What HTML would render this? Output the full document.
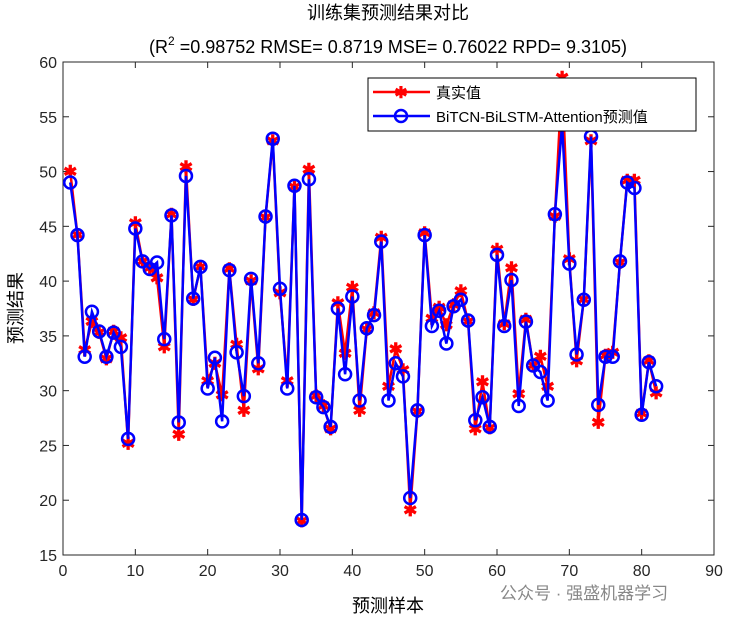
<!DOCTYPE html>
<html><head><meta charset="utf-8"><style>
body{margin:0;background:#fff;}
svg text{font-family:"Liberation Sans","Noto Sans CJK SC",sans-serif;}
</style></head><body>
<svg id="chart" width="735" height="621" xmlns="http://www.w3.org/2000/svg">
<rect width="735" height="621" fill="#fff"/>
<g id="grid"></g>
<g id="series"></g>
<text x="388" y="19" font-size="18" text-anchor="middle" fill="#000">训练集预测结果对比</text>
<text x="388" y="53" font-size="18" text-anchor="middle" fill="#000">(R<tspan font-size="12" dy="-8">2</tspan><tspan dy="8"> =0.98752 RMSE= 0.8719 MSE= 0.76022 RPD= 9.3105)</tspan></text>
<text transform="translate(22,308) rotate(-90)" font-size="18" text-anchor="middle" fill="#000">预测结果</text>
<text x="388" y="612" font-size="18" text-anchor="middle" fill="#000">预测样本</text>
<text x="500" y="599" font-size="17" fill="#888">公众号 · 强盛机器学习</text>
<g>
<rect x="368" y="78" width="328" height="53" fill="#fff" stroke="#000" stroke-width="1"/>
<line x1="373" y1="92" x2="430" y2="92" stroke="#f00" stroke-width="2.5"/>
<text x="401" y="98" font-size="16" font-weight="bold" fill="#f00" text-anchor="middle">✱</text>
<text x="436" y="98" font-size="15" fill="#000">真实值</text>
<line x1="373" y1="116" x2="430" y2="116" stroke="#00f" stroke-width="2.5"/>
<circle cx="401" cy="116" r="6" fill="none" stroke="#00f" stroke-width="2.5"/>
<text x="436" y="122" font-size="15" fill="#000">BiTCN-BiLSTM-Attention预测值</text>
</g>
</svg>
<script>
const trueVals=[50,44.2,33.7,36.3,35.3,32.9,35.4,34.8,25.2,45.3,41.8,41.2,40.3,34,46.1,26,50.4,38.3,41.3,30.9,32.5,29.6,41.1,34.2,28.2,40,32,45.8,52.8,38.9,30.9,48.6,18.1,50.2,29.5,28.6,26.5,38,33.4,39.4,28.2,35.6,37.1,44,30.4,33.8,31.9,19.1,28.1,44.4,36.6,37.6,36,37.8,39.1,36.3,26.5,30.8,26.6,42.9,36.1,41.2,29.7,36.5,32.3,33.1,30.4,45.9,58.6,42,32.7,38.3,52.8,27.1,33.2,33.5,41.7,49.2,49.2,27.9,32.7,29.8];
const predVals=[49,44.2,33.1,37.2,35.4,33.1,35.3,34,25.6,44.8,41.8,41.1,41.7,34.7,46,27.1,49.6,38.4,41.3,30.2,33,27.2,41,33.5,29.5,40.2,32.5,45.9,53,39.3,30.2,48.7,18.2,49.3,29.4,28.5,26.7,37.5,31.5,38.6,29.1,35.7,36.9,43.6,29.1,32.5,31.3,20.2,28.2,44.2,35.9,37.3,34.3,37.7,38.3,36.4,27.3,29.4,26.7,42.4,35.9,40.1,28.6,36.3,32.3,31.7,29.1,46.1,54.3,41.6,33.3,38.3,53.2,28.7,33.1,33.1,41.8,49,48.5,27.8,32.6,30.4];
const xTicks=[0,10,20,30,40,50,60,70,80,90];
const yTicks=[15,20,25,30,35,40,45,50,55,60];
const L=63,R=714,T=62,B=555;
const xs=v=>L+(v-0)/(90-0)*(R-L);
const ys=v=>B-(v-15)/(60-15)*(B-T);
const NS="http://www.w3.org/2000/svg";
const g=document.getElementById('grid'), s=document.getElementById('series');
function mk(tag,attrs,parent){const e=document.createElementNS(NS,tag);for(const k in attrs)e.setAttribute(k,attrs[k]);parent.appendChild(e);return e;}
const box=mk('rect',{x:L,y:T,width:R-L,height:B-T,fill:'none',stroke:'#262626','stroke-width':1},g);


xTicks.forEach(t=>{const x=xs(t);
mk('line',{x1:x,y1:B,x2:x,y2:B-6,stroke:'#262626'},g);
mk('line',{x1:x,y1:T,x2:x,y2:T+6,stroke:'#262626'},g);
const tx=mk('text',{x:x,y:B+21,'font-size':16,'text-anchor':'middle',fill:'#262626'},g);tx.textContent=t;

});
yTicks.forEach(t=>{const y=ys(t);
mk('line',{x1:L,y1:y,x2:L+6,y2:y,stroke:'#262626'},g);
mk('line',{x1:R,y1:y,x2:R-6,y2:y,stroke:'#262626'},g);
const tx=mk('text',{x:L-6,y:y+6,'font-size':16,'text-anchor':'end',fill:'#262626'},g);tx.textContent=t;

});
const tp=trueVals.map((v,i)=>xs(i+1)+','+ys(v)).join(' ');
const l1=mk('polyline',{points:tp,fill:'none',stroke:'#f00','stroke-width':2.5},s);


trueVals.forEach((v,i)=>{const t=mk('text',{x:xs(i+1),y:ys(v)+6,'font-size':17,'font-weight':'bold','text-anchor':'middle',fill:'#f00'},s);t.textContent='✱';

});
const pp=predVals.map((v,i)=>xs(i+1)+','+ys(v)).join(' ');
const l2=mk('polyline',{points:pp,fill:'none',stroke:'#00f','stroke-width':2.5},s);


predVals.forEach((v,i)=>{const c=mk('circle',{cx:xs(i+1),cy:ys(v),r:6,fill:'none',stroke:'#00f','stroke-width':2.5},s);

});
</script>
</body></html>
